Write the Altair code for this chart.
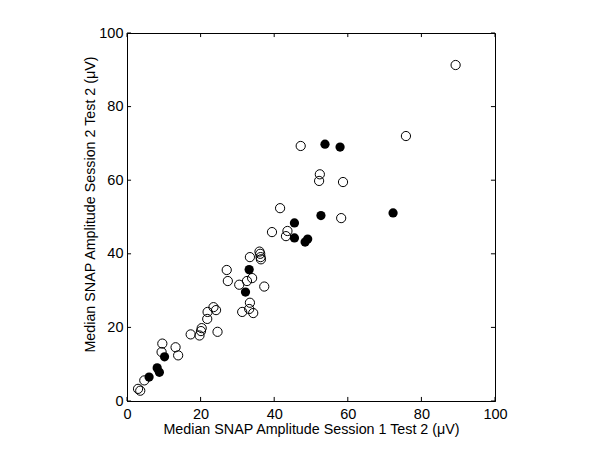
import altair as alt
import pandas as pd

# Open circles (Session 1 Test 2 vs Session 2 Test 2)
open_x = [89.3, 75.8, 47.2, 52.4, 52.2, 58.7, 58.2, 41.6, 39.4, 43.6, 43.2,
          36.0, 36.2, 36.3, 36.4, 33.4, 27.1, 27.4, 30.5, 32.6, 34.0, 37.3,
          33.4, 31.3, 33.2, 34.3, 23.5, 24.2, 21.9, 21.8, 24.6, 20.3, 20.1,
          19.7, 17.3, 9.6, 9.4, 13.2, 13.9, 4.7, 3.0, 3.6]
open_y = [91.3, 72.0, 69.3, 61.6, 59.8, 59.5, 49.7, 52.4, 45.9, 46.2, 44.8,
          40.6, 40.0, 39.1, 38.5, 39.1, 35.6, 32.6, 31.6, 32.6, 33.4, 31.1,
          26.7, 24.2, 25.0, 23.9, 25.5, 24.7, 24.2, 22.3, 18.8, 19.8, 19.0,
          17.8, 18.1, 15.6, 13.3, 14.6, 12.4, 5.6, 3.3, 2.8]

# Filled circles
filled_x = [53.8, 57.9, 52.7, 72.3, 45.5, 45.5, 48.4, 49.1, 33.2, 32.2,
            10.2, 8.2, 8.8, 6.0]
filled_y = [69.8, 69.0, 50.4, 51.1, 48.4, 44.3, 43.2, 44.0, 35.7, 29.6,
            12.0, 9.0, 7.8, 6.5]

tick_values = [0, 20, 40, 60, 80, 100]
tick_len = 1.1  # inward tick length in data units

df_open = pd.DataFrame({"x": open_x, "y": open_y})
df_filled = pd.DataFrame({"x": filled_x, "y": filled_y})

rows = []
for v in tick_values:
    rows.append({"x": v, "x2": v, "y": 0, "y2": tick_len})
    rows.append({"x": v, "x2": v, "y": 100 - tick_len, "y2": 100})
    rows.append({"x": 0, "x2": tick_len, "y": v, "y2": v})
    rows.append({"x": 100 - tick_len, "x2": 100, "y": v, "y2": v})
df_ticks = pd.DataFrame(rows)

font = "Liberation Sans"

xenc = alt.X("x:Q", scale=alt.Scale(domain=[0, 100], nice=False, zero=False),
             axis=alt.Axis(values=tick_values, title="Median SNAP Amplitude Session 1 Test 2 (μV)",
                           grid=False, ticks=False, labelPadding=6, titlePadding=2,
                           labelFlush=False))
yenc = alt.Y("y:Q", scale=alt.Scale(domain=[0, 100], nice=False, zero=False),
             axis=alt.Axis(values=tick_values, title="Median SNAP Amplitude Session 2 Test 2 (μV)",
                           grid=False, ticks=False, labelPadding=4, titlePadding=1,
                           labelFlush=False, titleY=171))

open_layer = alt.Chart(df_open).mark_point(
    shape="circle", size=85, filled=False, color="black", strokeWidth=1, opacity=1
).encode(x=xenc, y=yenc)

filled_layer = alt.Chart(df_filled).mark_point(
    shape="circle", size=85, filled=True, color="black", opacity=1
).encode(x=xenc, y=yenc)

tick_layer = alt.Chart(df_ticks).mark_rule(color="black", strokeWidth=1).encode(
    x=xenc, y=yenc, x2="x2:Q", y2="y2:Q"
)

chart = alt.layer(tick_layer, open_layer, filled_layer).properties(
    width=368, height=368,
    autosize=alt.AutoSizeParams(type="none"),
    padding={"left": 119, "top": 25, "right": 90, "bottom": 40},
    background="white",
).configure_view(
    stroke="black", strokeWidth=1
).configure_axis(
    domainColor="black", domainWidth=1,
    labelFont=font, labelFontSize=14.5, labelColor="black",
    titleFont=font, titleFontSize=14.3, titleFontWeight="normal", titleColor="black",
)

chart.save("out.html", embed_options={"renderer": "svg", "actions": False})
